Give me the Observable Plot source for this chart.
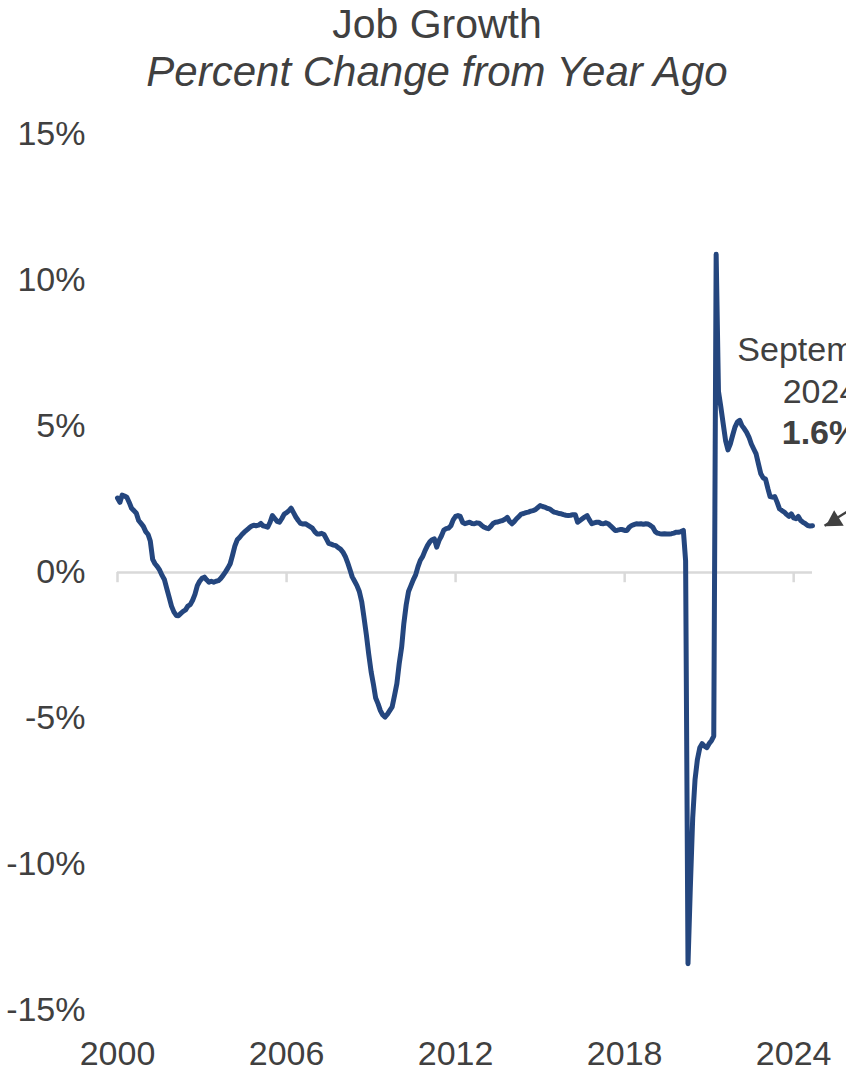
<!DOCTYPE html>
<html>
<head>
<meta charset="utf-8">
<script src="https://cdn.jsdelivr.net/npm/d3@7"></script>
<script src="https://cdn.jsdelivr.net/npm/@observablehq/plot@0.6"></script>
<style>
  html, body { margin: 0; padding: 0; background: #fff; overflow: hidden; }
  #header {
    height: 100px; padding-left: 28px; text-align: center;
    font-family: "Liberation Sans", Arial, sans-serif; color: #404040;
  }
  #header .title { font-size: 41px; line-height: 48px; }
  #header .subtitle { font-size: 42px; line-height: 48px; font-style: italic; }
</style>
</head>
<body>
<div id="header">
  <div class="title">Job Growth</div>
  <div class="subtitle">Percent Change from Year Ago</div>
</div>
<div id="chart"></div>
<script>
// Year-over-year job growth (%), monthly, January through December of each year
const growth2000 = [2.55, 2.40, 2.65, 2.62, 2.58, 2.40, 2.20, 2.12, 2.03, 1.78, 1.68, 1.58];
const growth2001 = [1.40, 1.30, 1.08, 0.45, 0.30, 0.20, 0.08, -0.10, -0.25, -0.55, -0.85, -1.15];
const growth2002 = [-1.35, -1.47, -1.48, -1.40, -1.33, -1.28, -1.15, -1.10, -0.95, -0.75, -0.45, -0.30];
const growth2003 = [-0.20, -0.16, -0.25, -0.33, -0.30, -0.33, -0.30, -0.28, -0.20, -0.10, 0.02, 0.15];
const growth2004 = [0.30, 0.60, 0.90, 1.12, 1.20, 1.30, 1.38, 1.45, 1.52, 1.58, 1.62, 1.60];
const growth2005 = [1.62, 1.68, 1.60, 1.58, 1.55, 1.72, 1.95, 1.85, 1.75, 1.72, 1.85, 2.00];
const growth2006 = [2.05, 2.12, 2.20, 2.05, 1.90, 1.78, 1.68, 1.66, 1.67, 1.62, 1.57, 1.52];
const growth2007 = [1.40, 1.32, 1.32, 1.34, 1.30, 1.15, 1.00, 0.97, 0.94, 0.92, 0.85, 0.80];
const growth2008 = [0.70, 0.55, 0.35, 0.10, -0.15, -0.30, -0.45, -0.65, -1.00, -1.55, -2.15, -2.80];
const growth2009 = [-3.40, -3.85, -4.30, -4.50, -4.73, -4.88, -4.95, -4.85, -4.72, -4.60, -4.20, -3.80];
const growth2010 = [-3.10, -2.55, -1.75, -1.10, -0.65, -0.45, -0.25, -0.08, 0.20, 0.42, 0.55, 0.75];
const growth2011 = [0.92, 1.05, 1.12, 1.15, 0.87, 1.10, 1.25, 1.45, 1.50, 1.52, 1.60, 1.80];
const growth2012 = [1.92, 1.95, 1.92, 1.72, 1.67, 1.70, 1.72, 1.68, 1.67, 1.70, 1.69, 1.62];
const growth2013 = [1.56, 1.52, 1.50, 1.58, 1.68, 1.72, 1.73, 1.76, 1.78, 1.82, 1.89, 1.75];
const growth2014 = [1.67, 1.75, 1.84, 1.92, 2.00, 2.02, 2.05, 2.07, 2.10, 2.12, 2.15, 2.22];
const growth2015 = [2.29, 2.26, 2.24, 2.20, 2.18, 2.12, 2.07, 2.05, 2.02, 2.01, 1.98, 1.96];
const growth2016 = [1.95, 1.96, 1.98, 1.98, 1.72, 1.78, 1.84, 1.90, 1.95, 1.80, 1.67, 1.70];
const growth2017 = [1.72, 1.72, 1.68, 1.67, 1.70, 1.67, 1.60, 1.52, 1.44, 1.45, 1.47, 1.47];
const growth2018 = [1.44, 1.44, 1.55, 1.61, 1.64, 1.67, 1.66, 1.67, 1.65, 1.67, 1.66, 1.61];
const growth2019 = [1.55, 1.40, 1.35, 1.33, 1.32, 1.33, 1.32, 1.32, 1.33, 1.35, 1.38, 1.38];
const growth2020 = [1.40, 1.44, 0.40, -13.40, -10.80, -8.40, -7.10, -6.40, -6.00, -5.86, -5.95, -6.00];
const growth2021 = [-5.86, -5.75, -5.60, 10.90, 6.20, 5.66, 5.10, 4.52, 4.20, 4.40, 4.70, 4.98];
const growth2022 = [5.15, 5.21, 5.03, 4.92, 4.80, 4.63, 4.40, 4.23, 4.06, 3.72, 3.38, 3.24];
const growth2023 = [3.20, 2.87, 2.60, 2.58, 2.60, 2.40, 2.18, 2.12, 2.07, 1.99, 1.92, 2.01];
const growth2024 = [1.87, 1.84, 1.92, 1.78, 1.72, 1.67, 1.61, 1.59, 1.60];

const startYear = 2000;
const xTickYears = [2000, 2006, 2012, 2018, 2024];
const yTicks = [-15, -10, -5, 0, 5, 10, 15];

const yearly = [growth2000, growth2001, growth2002, growth2003, growth2004, growth2005,
  growth2006, growth2007, growth2008, growth2009, growth2010, growth2011, growth2012,
  growth2013, growth2014, growth2015, growth2016, growth2017, growth2018, growth2019,
  growth2020, growth2021, growth2022, growth2023, growth2024];

const series = yearly.flatMap((vals, yi) =>
  vals.map((v, mi) => ({date: new Date(Date.UTC(startYear + yi, mi, 1)), value: v})));
const last = series[series.length - 1];
const tickDates = xTickYears.map(y => new Date(Date.UTC(y, 0, 1)));

const ink = "#404040";
const axisGrey = "#d9d9d9";
const lineBlue = "#24467e";

const chart = Plot.plot({
  width: 846,
  height: 981,
  marginTop: 34,
  marginBottom: 71,
  marginLeft: 117,
  marginRight: 34,
  style: {fontFamily: "Liberation Sans, Arial, sans-serif", fontSize: "34px", color: ink, background: "#fff"},
  x: {type: "utc", domain: [series[0].date, last.date], ticks: tickDates, tickFormat: d3.utcFormat("%Y"),
      tickSize: 0, tickPadding: 30, label: null},
  y: {domain: [-15, 15], ticks: yTicks, tickFormat: d => `${d}%`, tickSize: 0, tickPadding: 32, label: null},
  marks: [
    Plot.ruleY([0], {stroke: axisGrey, strokeWidth: 2.5}),
    Plot.ruleX(tickDates, {x: d => d, y1: 0, y2: -0.35, stroke: axisGrey, strokeWidth: 2.5}),
    Plot.line(series, {x: "date", y: "value", stroke: lineBlue, strokeWidth: 5,
                       strokeLinejoin: "round", strokeLinecap: "round"}),
    // latest-value callout
    Plot.text([last], {x: "date", y: "value", text: d => d3.utcFormat("%B")(d.date),
                       dx: 8, dy: -165, lineAnchor: "bottom", fontSize: 34, fill: ink}),
    Plot.text([last], {x: "date", y: "value", text: d => d3.utcFormat("%Y")(d.date),
                       dx: 8, dy: -123, lineAnchor: "bottom", fontSize: 34, fill: ink}),
    Plot.text([last], {x: "date", y: "value", text: d => `${d.value.toFixed(1)}%`,
                       dx: 8, dy: -82, lineAnchor: "bottom", fontSize: 34, fontWeight: "bold", fill: ink}),
    Plot.link([last], {x1: "date", y1: "value", x2: d => d3.utcMonth.offset(d.date, 18),
                       y2: d => d.value + 0.9, dx: 12, stroke: ink, strokeWidth: 2.5}),
    Plot.dot([last], {x: "date", y: "value", symbol: "triangle", r: 6.7, fill: ink, stroke: "none",
                      rotate: 238, dx: 22, dy: -5})
  ]
});

document.getElementById("chart").appendChild(chart);
</script>
</body>
</html>
